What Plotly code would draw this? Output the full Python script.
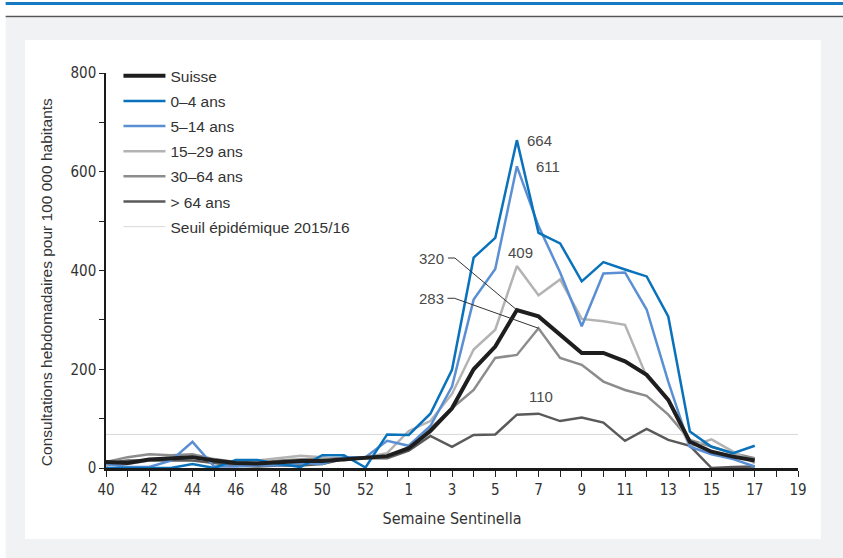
import plotly.graph_objects as go

# Sentinella weeks, season 2015/16 (2015 had a week 53)
weeks = ["40", "41", "42", "43", "44", "45", "46", "47", "48", "49", "50", "51", "52", "53",
         "1", "2", "3", "4", "5", "6", "7", "8", "9", "10", "11", "12", "13", "14", "15", "16",
         "17", "18", "19"]
tick_text = ["40", "", "42", "", "44", "", "46", "", "48", "", "50", "", "52", "",
             "1", "", "3", "", "5", "", "7", "", "9", "", "11", "", "13", "", "15", "",
             "17", "", "19"]

# data goes up to week 17
data_weeks = weeks[:31]

suisse = [12, 10, 17, 20, 22, 15, 10, 9, 12, 14, 14, 18, 22, 24, 40, 75, 121, 200, 246, 320,
          307, 270, 233, 233, 216, 189, 138, 53, 33, 23, 15]
age_0_4 = [0, 0, 0, 0, 8, 0, 16, 16, 8, 2, 26, 26, 1, 68, 67, 110, 199, 426, 466, 664,
           476, 455, 378, 417, 402, 388, 307, 74, 43, 30, 45]
age_5_14 = [8, 2, 2, 15, 53, 3, 3, 5, 5, 10, 8, 22, 22, 55, 45, 85, 165, 341, 403, 611,
            490, 396, 287, 394, 396, 321, 175, 43, 28, 18, 3]
age_15_29 = [5, 8, 15, 22, 20, 15, 10, 15, 20, 25, 22, 15, 22, 30, 75, 95, 150, 240, 280, 409,
             350, 382, 302, 297, 290, 185, 138, 43, 58, 33, 10]
age_30_64 = [12, 22, 28, 26, 28, 18, 12, 10, 15, 18, 20, 20, 22, 22, 40, 80, 121, 158, 223, 229,
             283, 223, 209, 175, 158, 146, 108, 57, 43, 30, 20]
age_65 = [10, 15, 15, 15, 15, 10, 5, 3, 5, 5, 8, 18, 20, 20, 35, 65, 43, 67, 68, 108,
          110, 95, 102, 92, 55, 79, 57, 45, 0, 2, 3]
seuil = 68

y_tickvals = [0, 100, 200, 300, 400, 500, 600, 700, 800]
y_ticktext = ["0", "", "200", "", "400", "", "600", "", "800"]

tick_font = "Liberation Sans Narrow, DejaVu Sans Condensed, Arial Narrow, sans-serif"
text_font = "Liberation Sans, Arial, sans-serif"

fig = go.Figure()

# threshold line first so it sits under the curves
fig.add_trace(go.Scatter(x=[weeks[0], weeks[-1]], y=[seuil, seuil], mode='lines',
                         name='Seuil épidémique 2015/16', legendrank=7, legendgroup='g7',
                         line=dict(color='#d9d9d9', width=1)))

series = [
    ('> 64 ans', age_65, '#5a5a5a', 2.5, 6),
    ('30–64 ans', age_30_64, '#8c8c8c', 2.5, 5),
    ('15–29 ans', age_15_29, '#b3b3b3', 2.5, 4),
    ('5–14 ans', age_5_14, '#5b8fd4', 2.5, 3),
    ('0–4 ans', age_0_4, '#0a72ba', 2.5, 2),
    ('Suisse', suisse, '#1e1e1e', 4, 1),
]
for name, vals, color, width, rank in series:
    fig.add_trace(go.Scatter(x=data_weeks, y=vals, mode='lines', name=name,
                             legendrank=rank, legendgroup='g%d' % rank,
                             line=dict(color=color, width=width)))

# value labels next to the peaks (x as category index)
def peak_pos(vals):
    i = vals.index(max(vals))
    return i, vals[i]

labels = [
    (age_0_4, 23, 0),
    (age_5_14, 31, 0),
    (age_15_29, 4, 14),
    (age_65, 2, 17),
    (suisse, -85, 52),
    (age_30_64, -107, 30),
]
for vals, dx, dy in labels:
    i, v = peak_pos(vals)
    fig.add_annotation(x=i, y=v, text=str(v), showarrow=False,
                       xshift=dx, yshift=dy,
                       font=dict(family=text_font, size=15, color='#4a4a4a'))

# leader lines for 320 and 283
i, v = peak_pos(suisse)
fig.add_shape(type='path', xref='x', yref='y', xsizemode='pixel', ysizemode='pixel',
              xanchor=i, yanchor=v, path='M -69,52 L -62,52 L 0,0',
              line=dict(color='#333333', width=1))
i, v = peak_pos(age_30_64)
fig.add_shape(type='path', xref='x', yref='y', xsizemode='pixel', ysizemode='pixel',
              xanchor=i, yanchor=v, path='M -91,30 L -84,30 L 0,0',
              line=dict(color='#333333', width=1))

# page decoration: grey backdrop, white panel, header rules
fig.add_shape(type='rect', xref='paper', yref='paper', x0=-0.145, x1=1.1, y0=-0.3, y1=1.14,
              fillcolor='#f1f2f4', line=dict(width=0), layer='below')
fig.add_shape(type='rect', xref='paper', yref='paper', x0=-0.117, x1=1.033, y0=-0.18, y1=1.0835,
              fillcolor='white', line=dict(width=0), layer='below')
fig.add_shape(type='line', xref='paper', yref='paper', x0=-0.145, x1=1.1, y0=1.176, y1=1.176,
              line=dict(color='#1479c0', width=3), layer='below')
fig.add_shape(type='line', xref='paper', yref='paper', x0=-0.145, x1=1.1, y0=1.143, y1=1.143,
              line=dict(color='#555555', width=1.5), layer='below')

# y title as annotation to place it like the original
fig.add_annotation(x=-0.085, y=0.471, xref='paper', yref='paper', showarrow=False,
                   xanchor='center', yanchor='middle',
                   text='Consultations hebdomadaires pour 100 000 habitants', textangle=-90,
                   font=dict(family=text_font, size=15.5, color='#333333'))

fig.update_layout(
    width=843, height=558,
    margin=dict(l=106, r=45, t=73, b=90),
    paper_bgcolor='white',
    plot_bgcolor='white',
    showlegend=True,
    legend=dict(x=0.018, y=1.035, xanchor='left', yanchor='top', bgcolor='rgba(0,0,0,0)',
                font=dict(family=text_font, size=15.5, color='#333333'),
                tracegroupgap=2, itemwidth=42),
    xaxis=dict(type='category', categoryorder='array', categoryarray=weeks,
               range=[0, len(weeks) - 1], tickmode='array', tickvals=weeks, ticktext=tick_text,
               ticks='outside', ticklen=6, tickcolor='#222222', tickwidth=1,
               showline=True, linecolor='#1a1a1a', linewidth=2.5, showgrid=False, zeroline=False,
               tickfont=dict(family=tick_font, size=15, color='#333333'),
               title=dict(text='Semaine Sentinella', standoff=16,
                          font=dict(family=tick_font, size=16, color='#333333'))),
    yaxis=dict(range=[0, 800], tickmode='array', tickvals=y_tickvals, ticktext=y_ticktext,
               ticks='outside', ticklen=5, tickcolor='#222222', tickwidth=1,
               showline=True, linecolor='#1a1a1a', linewidth=1.5, showgrid=False, zeroline=False,
               tickfont=dict(family=tick_font, size=15, color='#333333')),
)

# drop the default page margin so the figure sits at the window origin
fig.write_html("out.html", config={'displayModeBar': False},
               post_script="document.body.style.margin='0';")
